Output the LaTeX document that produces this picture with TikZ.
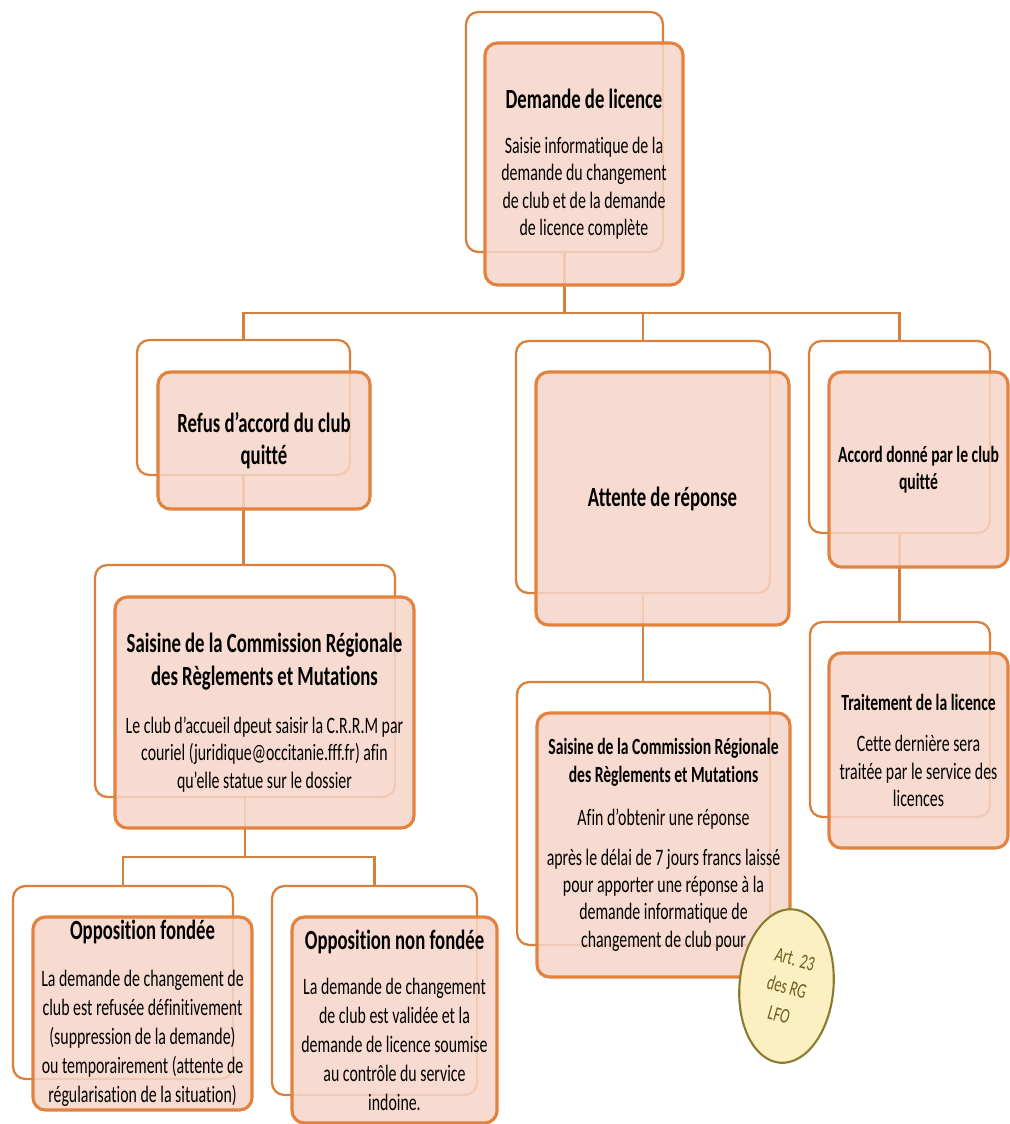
\documentclass[tikz,border=0pt]{standalone}
\usepackage{fontspec}
\setmainfont[FakeStretch=0.674, Ligatures={NoCommon}]{Carlito}
\usetikzlibrary{shapes.geometric}
\definecolor{boxline}{HTML}{E2823E}
\definecolor{backline}{HTML}{D9813C}
\definecolor{boxfill}{HTML}{F6D5C9}
\definecolor{linkline}{HTML}{D4803F}
\definecolor{notefill}{HTML}{FCF0C2}
\definecolor{noteline}{HTML}{8C7B2E}
\definecolor{notetext}{HTML}{6E5E22}
\newcommand{\ttlfont}{\fontsize{15.8}{18.5}\selectfont\bfseries}
\newcommand{\subfont}{\fontsize{13.2}{15.4}\selectfont\bfseries}
\newcommand{\txtfont}{\fontsize{13.4}{15.6}\selectfont}
\newcommand{\lowfont}{\fontsize{13.4}{16.5}\selectfont}
\newcommand{\ttl}[1]{{\ttlfont #1}}
\newcommand{\subttl}[1]{{\subfont #1}}
\begin{document}
\begin{tikzpicture}[x=0.02cm, y=-0.02cm,
  back/.style={draw=backline, line width=1.3pt, rounded corners=7pt, inner sep=0pt},
  front/.style={draw=boxline, line width=1.8pt, rounded corners=7pt, inner sep=0pt,
    fill=boxfill, fill opacity=0.85, text opacity=1, align=center, font=\txtfont},
  link/.style={draw=linkline, line width=1.2pt},
  note/.style={ellipse, draw=noteline, fill=notefill, line width=1.2pt, inner sep=0pt}]
 \useasboundingbox (0,0) rectangle (1009,1124);
 \node[back, minimum width=3.94cm, minimum height=4.80cm] (demB) at (564.5,132) {};
 \node[back, minimum width=4.26cm, minimum height=2.70cm] (refB) at (243.5,407.5) {};
 \node[back, minimum width=5.08cm, minimum height=5.04cm] (attB) at (643,467) {};
 \node[back, minimum width=3.62cm, minimum height=3.84cm] (accB) at (899.5,437) {};
 \node[back, minimum width=6.00cm, minimum height=4.64cm] (saiB) at (245,681) {};
 \node[back, minimum width=5.06cm, minimum height=5.26cm] (msaB) at (643.5,813.5) {};
 \node[back, minimum width=3.60cm, minimum height=3.90cm] (trB) at (900,719.5) {};
 \node[back, minimum width=4.40cm, minimum height=3.86cm] (ofB) at (123,982.5) {};
 \node[back, minimum width=4.10cm, minimum height=4.18cm] (onB) at (374.5,990.5) {};

 \coordinate (bar1) at (0,313);
 \coordinate (bar2) at (0,857);
 \draw[link] (demB.south) -- (demB.south |- bar1);
 \draw[link] (refB.north) |- (accB.north |- bar1) -- (accB.north);
 \draw[link] (attB.north) -- (attB.north |- bar1);
 \draw[link] (refB.south) -- (refB.south |- saiB.north);
 \draw[link] (saiB.south) -- (saiB.south |- bar2);
 \draw[link] (ofB.north) |- (onB.north |- bar2) -- (onB.north);
 \draw[link] (attB.south) -- (attB.south |- msaB.north);
 \draw[link] (accB.south) -- (accB.south |- trB.north);

 \node[front, minimum width=3.96cm, minimum height=4.84cm] (dem) at (584,164)
  {\ttl{Demande de licence}\\[10pt] Saisie informatique de la\\ demande du changement\\ de club et de la demande\\ de licence complète};
 \node[front, font=\ttlfont, minimum width=4.24cm, minimum height=2.74cm] (ref) at (264,440.5)
  {Refus d'accord du club\\ quitté};
 \node[front, font=\ttlfont, minimum width=5.06cm, minimum height=5.06cm] (att) at (662.5,498.5)
  {Attente de réponse};
 \node[front, font=\subfont, minimum width=3.58cm, minimum height=3.90cm] (acc) at (918.5,469.5)
  {Accord donné par le club\\ quitté};
 \node[front, minimum width=5.98cm, minimum height=4.62cm] (sai) at (264.5,712.5)
  {\ttl{Saisine de la Commission Régionale}\\[3pt] \ttl{des Règlements et Mutations}\\[12pt]
   Le club d'accueil dpeut saisir la C.R.R.M par\\ couriel (juridique@occitanie.fff.fr) afin\\ qu'elle statue sur le dossier};
 \node[front, minimum width=5.06cm, minimum height=5.28cm] (msa) at (663.5,845)
  {\subttl{Saisine de la Commission Régionale}\\ \subttl{des Règlements et Mutations}\\[9pt]
   Afin d'obtenir une réponse\\[7pt] après le délai de 7 jours francs laissé\\ pour apporter une réponse à la\\
   demande informatique de\\ changement de club pour};
 \node[front, minimum width=3.58cm, minimum height=3.90cm] (tr) at (918.5,750.5)
  {\subttl{Traitement de la licence}\\[8pt] Cette dernière sera\\ traitée par le service des\\ licences};
 \node[front, font=\lowfont, minimum width=4.38cm, minimum height=3.86cm] (of) at (142.5,1013.5)
  {\ttl{Opposition fondée}\\[10pt] La demande de changement de\\ club est refusée définitivement\\
   (suppression de la demande)\\ ou temporairement (attente de\\ régularisation de la situation)};
 \node[front, font=\lowfont, minimum width=4.10cm, minimum height=4.12cm] (on) at (394.5,1020)
  {\ttl{Opposition non fondée}\\[9pt] La demande de changement\\ de club est validée et la\\
   demande de licence soumise\\ au contrôle du service\\ indoine.};

 \node[note, minimum width=1.88cm, minimum height=3.08cm, rotate=-5] (art) at (786.5,986) {};
 \node[rotate=-16, text=notetext, align=center, font=\fontsize{12}{16.5}\selectfont] (artT) at (787,987)
  {Art. 23\\ des RG\\ LFO};
\end{tikzpicture}
\end{document}
